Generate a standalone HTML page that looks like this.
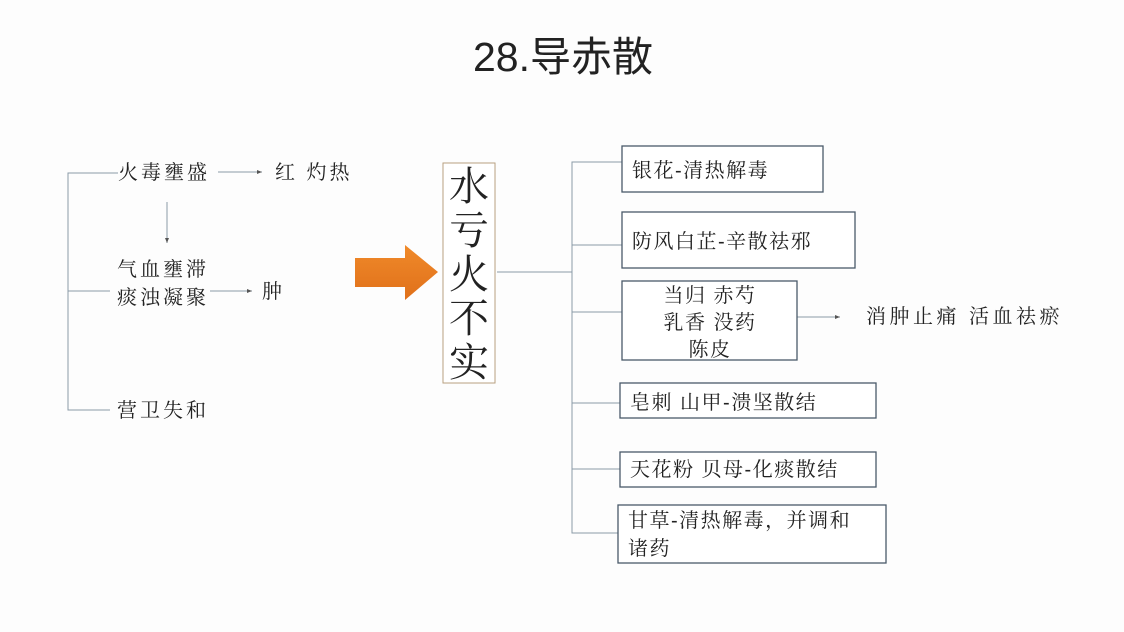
<!DOCTYPE html>
<html><head><meta charset="utf-8"><style>
html,body{margin:0;padding:0;background:#fdfdfd;}
svg{display:block}
text{font-family:"Liberation Sans","Noto Serif CJK SC","Noto Sans CJK SC",serif;fill:#222;}
</style></head><body>
<svg width="1124" height="632" viewBox="0 0 1124 632" xmlns="http://www.w3.org/2000/svg">
<defs><marker id="a" markerWidth="6" markerHeight="6" refX="5" refY="3" orient="auto"><path d="M0,1 L5,3 L0,5z" fill="#555"/></marker>
<linearGradient id="g" x1="0" y1="0" x2="0" y2="1"><stop offset="0" stop-color="#f08a2a"/><stop offset="1" stop-color="#e0701a"/></linearGradient></defs>
<text x="563" y="71" font-size="41" text-anchor="middle" style="font-family:'Liberation Sans','Noto Sans CJK SC',sans-serif">28.导赤散</text>
<g stroke="#8a9aa8" stroke-width="1" fill="none">
<path d="M118,173 H68 V410 H110"/><path d="M68,291 H110"/>
<path d="M218,172 H262" marker-end="url(#a)"/>
<path d="M167,202 V243" marker-end="url(#a)"/>
<path d="M210,291 H252" marker-end="url(#a)"/>
<path d="M497,272 H572"/>
<path d="M622,162 H572 V533 H618"/>
<path d="M572,245 H622 M572,312 H622 M572,403 H620 M572,469 H620"/>
<path d="M797,317 H840" marker-end="url(#a)"/>
</g>
<g font-size="20" letter-spacing="3">
<text x="118" y="179">火毒壅盛</text>
<text x="275" y="179">红 灼热</text>
<text x="117" y="276">气血壅滞</text>
<text x="117" y="304">痰浊凝聚</text>
<text x="262" y="298">肿</text>
<text x="117" y="417">营卫失和</text>
</g>
<path d="M355,258 H405 V245 L438,272 L405,300 V287 H355z" fill="url(#g)"/>
<rect x="443" y="163" width="52" height="220" fill="#fff" stroke="#b8a080" stroke-width="1"/>
<g font-size="40" text-anchor="middle" style="font-family:'Liberation Sans','Noto Sans CJK SC',sans-serif">
<text x="469" y="200">水</text><text x="469" y="244">亏</text><text x="469" y="288">火</text><text x="469" y="332">不</text><text x="469" y="376">实</text>
</g>
<g stroke="#4a5a6a" stroke-width="1.3" fill="#fff">
<rect x="622" y="146" width="201" height="46"/>
<rect x="622" y="212" width="233" height="56"/>
<rect x="622" y="281" width="175" height="79"/>
<rect x="620" y="383" width="256" height="35"/>
<rect x="620" y="452" width="256" height="35"/>
<rect x="618" y="505" width="268" height="58"/>
</g>
<g font-size="20" letter-spacing="1.5">
<text x="632" y="177">银花-清热解毒</text>
<text x="632" y="248">防风白芷-辛散祛邪</text>
<text x="710" y="302" text-anchor="middle">当归 赤芍</text>
<text x="710" y="329" text-anchor="middle">乳香 没药</text>
<text x="710" y="356" text-anchor="middle">陈皮</text>
<text x="630" y="409">皂刺 山甲-溃坚散结</text>
<text x="630" y="476">天花粉 贝母-化痰散结</text>
<text x="628" y="527">甘草-清热解毒，并调和</text>
<text x="628" y="555">诸药</text>
<text x="866" y="323" letter-spacing="3.5">消肿止痛 活血祛瘀</text>
</g>
</svg>
</body></html>
